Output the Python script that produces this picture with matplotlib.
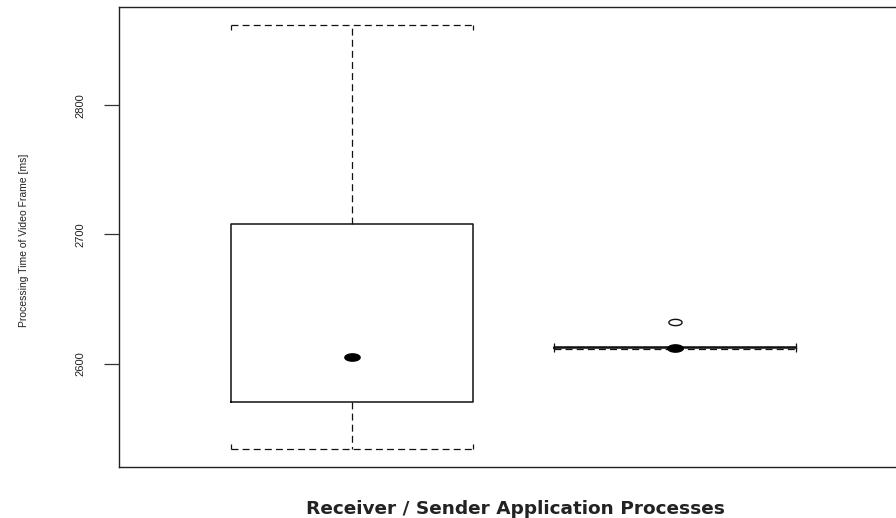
import numpy as np
import matplotlib
matplotlib.use("Agg")
import matplotlib.pyplot as plt

# donnees : temps de traitement par processus (receveur / emetteur)
positions = [1, 2]
whislo = [2534, 2611.6]
q1 = [2570, 2612.0]
med = [2605, 2612.4]
q3 = [2708, 2612.8]
whishi = [2862, 2613.2]
outliers = [[], [2632.5]]
yticks = [2600, 2700, 2800]

largeur = 0.75

plt.rcParams['lines.scale_dashes'] = False
narrow = ['Liberation Sans Narrow', 'Liberation Sans', 'DejaVu Sans']

fig = plt.figure(figsize=(8.96, 5.18), dpi=100)
ax = fig.add_axes([119/896, 51/518, 1 - 119/896, 460/518])

stats = []
for i in range(len(positions)):
    stats.append({'whislo': whislo[i], 'q1': q1[i], 'med': med[i],
                  'q3': q3[i], 'whishi': whishi[i], 'fliers': outliers[i]})

ax.bxp(stats, positions=positions, widths=largeur, capwidths=largeur,
       showfliers=False,
       boxprops=dict(color='#111111', linewidth=1.1),
       whiskerprops=dict(color='#111111', linewidth=0.9, linestyle=(0, (5, 3))),
       capprops=dict(color='#111111', linewidth=0.9, linestyle=(0, (5, 3))),
       medianprops=dict(visible=False))

# petits crochets au bout des moustaches
crochet = 4
for i, p in enumerate(positions):
    for x in [p - largeur/2, p + largeur/2]:
        ax.vlines(x, whislo[i], whislo[i] + crochet, color='#111111', linewidth=0.9)
        ax.vlines(x, whishi[i] - crochet, whishi[i], color='#111111', linewidth=0.9)

# mediane en point plein, valeurs extremes en cercle vide (un peu ecrases)
t = np.linspace(0, 2*np.pi, 41)
ellipse = list(zip(2.1*np.cos(t), np.sin(t)))
ax.plot(positions, med, linestyle='none', marker=ellipse, markersize=11,
        color='black', zorder=5)
for i, p in enumerate(positions):
    if len(outliers[i]) > 0:
        ax.plot([p]*len(outliers[i]), outliers[i], linestyle='none', marker=ellipse,
                markersize=9.5, markerfacecolor='white', markeredgecolor='#111111',
                markeredgewidth=1.0, zorder=5)

ax.set_xlim(1 - 233/323, 2 + 221/323)
ax.set_ylim(2520, 2876)
ax.set_xticks([])
ax.set_yticks(yticks)
ax.set_yticklabels([str(v) for v in yticks], rotation=90, va='center',
                   family=narrow, fontsize=8, color='#222222')
ax.tick_params(axis='y', length=11, width=0.9, pad=13, color='#333333')

for s in ['left', 'top', 'bottom']:
    ax.spines[s].set_color('#222222')
    ax.spines[s].set_linewidth(1.0)
ax.spines['right'].set_visible(False)

ax.set_ylabel("Processing Time of Video Frame [ms]", family=narrow,
              fontsize=7.5, color='#222222', va='center')
ax.yaxis.set_label_coords((24 - 119)/777, 0.493)

ax.set_xlabel("Receiver / Sender Application Processes", family='DejaVu Sans',
              fontweight='bold', fontsize=13.3, color='#222222', va='center')
ax.xaxis.set_label_coords((515 - 119)/777, (467 - 509)/460)

fig.savefig("out.png", dpi=100)
